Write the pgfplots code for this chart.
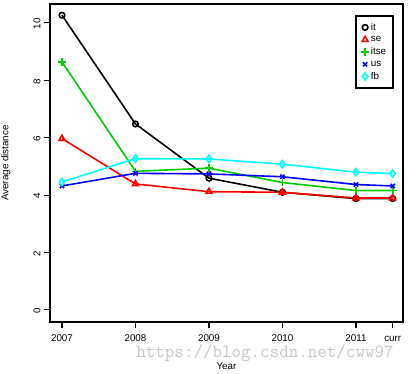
\documentclass[border=0pt]{standalone}
\usepackage{fontspec}
\setmainfont{Liberation Sans}
\usepackage{pgfplots}
\pgfplotsset{compat=1.18}
\definecolor{rgreen}{RGB}{0,205,0}
\definecolor{rcyan}{RGB}{0,255,255}
\begin{document}
\begin{tikzpicture}[x=1pt,y=1pt]
\useasboundingbox (-50,-52) rectangle (359,322);
\begin{axis}[
  at={(0,0)}, anchor=south west,
  scale only axis, width=353pt, height=318pt,
  xmin=-0.163, xmax=4.64, ymin=-0.42, ymax=10.66,
  axis line style={line width=2.4pt},
  xtick={0,1,2,3,4,4.5},
  xticklabels={2007,2008,2009,2010,2011,curr},
  ytick={0,2,4,6,8,10},
  tick align=outside, major tick length=6pt,
  tick style={line width=1.1pt,black},
  xtick pos=left, ytick pos=left,
  /pgf/number format/assume math mode=true,
  ticklabel style={font=\fontsize{9.8}{11}\selectfont},
  yticklabel style={rotate=90, anchor=south, xshift=-1pt},
  xticklabel style={yshift=-3pt, text height=7pt, text depth=1pt},
  xlabel={Year}, ylabel={Average distance},
  every axis x label/.style={at={(axis description cs:0.5,-0.138)}, anchor=center, font=\fontsize{9.8}{11}\selectfont},
  every axis y label/.style={at={(axis description cs:-0.125,0.5)}, rotate=90, anchor=center, font=\fontsize{9.8}{11}\selectfont},
  legend style={at={(0.975,0.965)}, anchor=north east, draw=black, line width=2pt,
    font=\fontsize{9.8}{11}\selectfont, row sep=0.6pt, inner xsep=5pt, inner ysep=5pt},
  legend cell align=left,
  legend image code/.code={\draw[#1, line width=1.8pt] plot coordinates {(0.2cm,0cm)};},
  every axis plot/.append style={line width=1.6pt, mark options={solid, line width=1.6pt}},
]
\addplot[black, mark=o, mark size=2.8pt] coordinates {(0,10.27) (1,6.48) (2,4.59) (3,4.10) (4,3.88) (4.5,3.88)};
\addplot[red, mark=triangle, mark size=3.4pt] coordinates {(0,5.97) (1,4.39) (2,4.12) (3,4.10) (4,3.90) (4.5,3.90)};
\addplot[rgreen, mark=+, mark size=3.8pt] coordinates {(0,8.64) (1,4.83) (2,4.94) (3,4.44) (4,4.16) (4.5,4.16)};
\addplot[blue, mark=x, mark size=3pt] coordinates {(0,4.32) (1,4.76) (2,4.74) (3,4.64) (4,4.37) (4.5,4.32)};
\addplot[rcyan, mark=diamond, mark size=3.6pt] coordinates {(0,4.46) (1,5.27) (2,5.26) (3,5.08) (4,4.80) (4.5,4.75)};
\legend{it,se,itse,us,fb}
\end{axis}
\node[text=black!22, font=\ttfamily\fontsize{18.5}{20}\selectfont, anchor=center] at (215,-31) {https://blog.csdn.net/cww97};
\end{tikzpicture}
\end{document}
